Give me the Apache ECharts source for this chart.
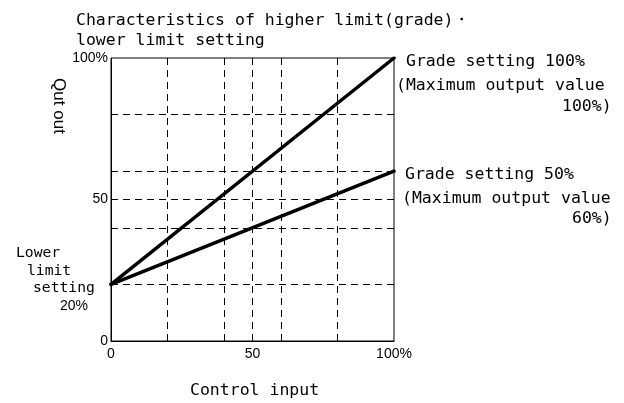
<!DOCTYPE html>
<html lang="en">
<head>
  <meta charset="UTF-8">
  <title>Characteristics of higher limit</title>
  <script src="https://cdn.jsdelivr.net/npm/echarts@6/dist/echarts.min.js"></script>
</head>
<body style="margin:0">
<div id="main" style="width: 624px;height: 403px"></div>
<script>
  var controlInput = [0, 100];
  var grade100 = [20, 100];
  var grade50 = [20, 60];
  var gridX = [20, 40, 50, 60, 80];
  var gridY = [20, 40, 50, 60, 80];
  var tickLabels = {0: '0', 50: '50', 100: '100%'};

  var chart = echarts.init(document.getElementById('main'));
  var mono = 'DejaVu Sans Mono';

  function pairs(ys) {
    return controlInput.map(function (x, i) { return [x, ys[i]]; });
  }

  var dashed = {color: '#000', width: 1, type: [7, 5]};
  var marks = gridX.map(function (v) { return {xAxis: v}; })
    .concat(gridY.map(function (v) { return {yAxis: v}; }));

  function txt(x, y, s, opt) {
    opt = opt || {};
    return {
      type: 'text', left: x, top: y,
      style: {
        text: s, fill: '#000', font: (opt.size || 16.5) + 'px ' + (opt.family || mono),
        textAlign: opt.align || 'left', textVerticalAlign: 'middle'
      }
    };
  }

  var option = {
    animation: false,
    grid: {left: 111, right: 230, top: 58, bottom: 62, show: true, borderColor: '#000', borderWidth: 1},
    xAxis: {
      type: 'value', min: 0, max: 100, interval: 10,
      axisLine: {lineStyle: {color: '#000'}}, axisTick: {show: false}, splitLine: {show: false},
      axisLabel: {
        color: '#000', fontFamily: 'Liberation Sans', fontSize: 14, margin: 6,
        formatter: function (v) { return tickLabels[v] || ''; }
      }
    },
    yAxis: {
      type: 'value', min: 0, max: 100, interval: 10,
      axisLine: {lineStyle: {color: '#000'}}, axisTick: {show: false}, splitLine: {show: false},
      axisLabel: {
        color: '#000', fontFamily: 'Liberation Sans', fontSize: 14, margin: 3,
        formatter: function (v) { return tickLabels[v] || ''; }
      }
    },
    series: [
      {
        type: 'line', data: pairs(grade100), showSymbol: false,
        lineStyle: {color: '#000', width: 3.5, cap: 'round'},
        markLine: {silent: true, symbol: 'none', label: {show: false}, lineStyle: dashed, data: marks}
      },
      {
        type: 'line', data: pairs(grade50), showSymbol: false,
        lineStyle: {color: '#000', width: 3.5, cap: 'round'}
      }
    ],
    graphic: [
      {
        type: 'text', x: 59, y: 106, rotation: -Math.PI / 2,
        style: {text: 'Qut out', fill: '#000', font: '17px Liberation Sans', textAlign: 'center', textVerticalAlign: 'middle'}
      },
      txt(76, 12, 'Characteristics of higher limit(grade)\u30FB'),
      txt(76, 32, 'lower limit setting'),
      txt(190, 382, 'Control input'),
      txt(16, 246, 'Lower', {size: 14.7}),
      txt(27, 264, 'limit', {size: 14.7}),
      txt(33, 281, 'setting', {size: 14.7}),
      txt(60, 299, '20%', {size: 14, family: 'Liberation Sans'}),
      txt(406, 53, 'Grade setting 100%'),
      txt(396, 77, '(Maximum output value'),
      txt(562, 98, '100%)'),
      txt(405, 166, 'Grade setting 50%'),
      txt(402, 190, '(Maximum output value'),
      txt(572, 210, '60%)')
    ]
  };

  chart.setOption(option);
</script>
</body>
</html>
